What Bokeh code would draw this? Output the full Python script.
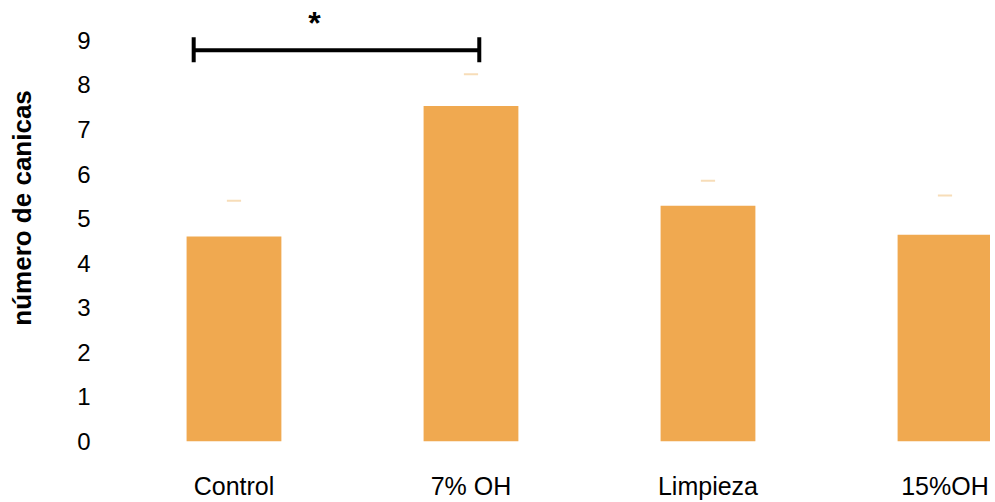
from bokeh.plotting import figure
from bokeh.models import Range1d, FixedTicker, ColumnDataSource
from bokeh.embed import file_html
from bokeh.resources import INLINE
from bokeh.core.properties import value

# Data
categories = ["Control", "7% OH", "Limpieza", "15%OH"]
means = [4.60, 7.53, 5.29, 4.64]
upper = [5.40, 8.24, 5.85, 5.52]
y_ticks = [0, 1, 2, 3, 4, 5, 6, 7, 8, 9]
y_title = "número de canicas"

# Significance bracket (Control vs 7% OH)
sig_x = [-0.17, 1.035]
sig_y = 8.78
sig_cap = [8.51, 9.07]
sig_label = "*"
sig_label_pos = [0.34, 9.40]

xs = list(range(len(categories)))

FONT = "Liberation Sans"

p = figure(width=990, height=502, output_backend="svg", toolbar_location=None,
           x_range=Range1d(-0.521, 3.192), y_range=Range1d(0, 9.67),
           min_border_left=110, min_border_right=0, min_border_top=10,
           min_border_bottom=59)
p.outline_line_color = None
p.xgrid.visible = False
p.ygrid.visible = False

src = ColumnDataSource(dict(x=xs, top=means, up=upper,
                            cl=[x - 0.03 for x in xs], cr=[x + 0.03 for x in xs]))
p.vbar(x="x", top="top", bottom=0, width=0.40, source=src,
       fill_color="#F0A950", line_color=None)
p.segment(x0="cl", x1="cr", y0="up", y1="up", source=src,
          line_color="#F7DDB8", line_width=2)

# bracket
p.segment(x0=[sig_x[0]], x1=[sig_x[1]], y0=[sig_y], y1=[sig_y],
          line_color="black", line_width=4)
p.segment(x0=sig_x, x1=sig_x, y0=[sig_cap[0]] * 2, y1=[sig_cap[1]] * 2,
          line_color="black", line_width=4)
p.text(x=[sig_label_pos[0]], y=[sig_label_pos[1]], text=[sig_label],
       text_font=value(FONT), text_font_size="32px", text_font_style="bold",
       text_align="center", text_baseline="middle", text_color="black")

# x axis
p.xaxis.ticker = FixedTicker(ticks=xs)
p.xaxis.major_label_overrides = {i: c for i, c in enumerate(categories)}
p.xaxis.axis_line_color = None
p.xaxis.major_tick_line_color = None
p.xaxis.minor_tick_line_color = None
p.xaxis.major_tick_out = 0
p.xaxis.major_label_standoff = 30
p.xaxis.major_label_text_font = FONT
p.xaxis.major_label_text_font_size = "25px"
p.xaxis.major_label_text_color = "black"

# y axis
p.yaxis.ticker = FixedTicker(ticks=y_ticks)
p.yaxis.axis_line_color = None
p.yaxis.major_tick_line_color = None
p.yaxis.minor_tick_line_color = None
p.yaxis.major_tick_out = 0
p.yaxis.major_label_standoff = 20
p.yaxis.major_label_text_font = FONT
p.yaxis.major_label_text_font_size = "24px"
p.yaxis.major_label_text_color = "black"
# leading no-break spaces lift the title a little above the frame centre
p.yaxis.axis_label = "\u00a0" * 5 + y_title
p.yaxis.axis_label_text_font = FONT
p.yaxis.axis_label_text_font_size = "26px"
p.yaxis.axis_label_text_font_style = "bold"
p.yaxis.axis_label_text_color = "black"
p.yaxis.axis_label_standoff = 37

open("out.html", "w").write(file_html(p, INLINE))
